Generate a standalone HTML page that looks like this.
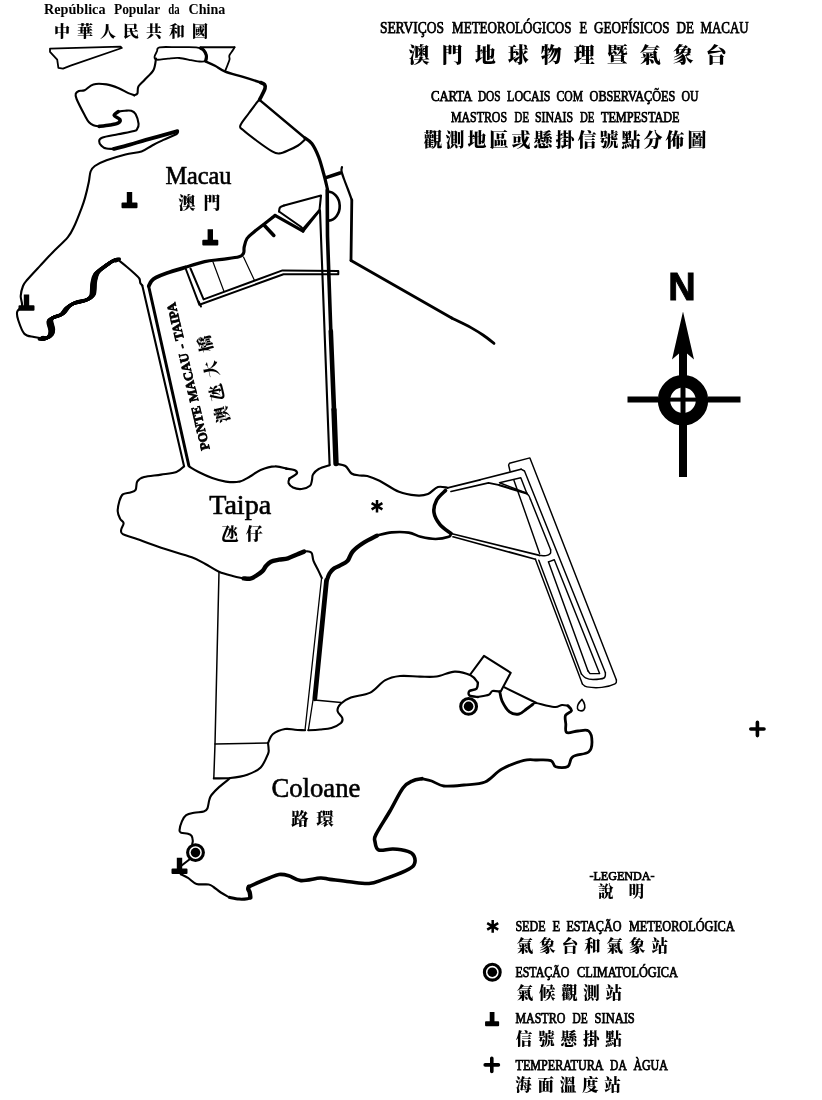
<!DOCTYPE html>
<html lang="pt">
<head>
<meta charset="utf-8">
<title>Carta dos locais com observações ou mastros de sinais de tempestade</title>
<style>
html,body{margin:0;padding:0;background:#fff;}
body{width:822px;height:1100px;overflow:hidden;}
svg{display:block;will-change:transform;filter:grayscale(1);}
svg path,svg circle,svg ellipse{fill:none;stroke:#000;stroke-linecap:round;stroke-linejoin:round;}
svg .fk{fill:#000;stroke:none;}
svg .fw{fill:#fff;}
svg text{fill:#000;stroke:none;font-family:"Liberation Serif","Noto Serif CJK SC",serif;}
svg text.zh{font-family:"Noto Serif CJK SC","Liberation Serif",serif;font-weight:900;}
svg text.sb{stroke:#000;stroke-width:.75px;}
svg text.pn{stroke:#000;stroke-width:.6px;}
svg text.b{font-weight:bold;}
svg text.n{font-family:"Liberation Sans",sans-serif;font-weight:bold;stroke:#000;stroke-width:.9px;}
</style>
</head>
<body>
<svg width="822" height="1100" viewBox="0 0 822 1100">
<rect class="fw" x="0" y="0" width="822" height="1100" stroke="none" fill="#fff"/>
<g id="china">
<path d="M50,48.7L120.5,46.7L121.8,48L70.6,65.7L63,68.6L58.4,67.8L57.2,59.6L50,51.8Z" stroke-width="1.8"/>
<path d="M159.6,47.3C163.1,46.6 171.9,47.2 178,47.2C184.1,47.2 192,46.9 196.2,47.3C200.4,47.7 201.3,48.1 203,49.5C204.7,50.9 206,53.5 206.4,55.4C206.8,57.3 207,60 205.6,61C204.2,62 200.3,61.5 197.9,61.4C195.5,61.3 194.2,60.8 191.1,60.2C188,59.6 183,58.3 179.2,58C175.3,57.7 171.7,58.3 168,58.6C164.3,58.9 159.2,60 157,59.7C154.8,59.5 154.5,58.5 154.5,57.1C154.5,55.7 156.2,52.8 157,51.2C157.8,49.6 156.1,48 159.6,47.3Z" stroke-width="1.8"/>
<path d="M200.5,48.2C201,48.5 202.5,48.8 203.5,50C204.5,51.2 206.1,53.6 206.4,55.4C206.8,57.2 205.7,60.1 205.6,61" stroke-width="3.2"/>
<path d="M200.5,47.3L234.5,47.3" stroke-width="2"/>
<path d="M234.5,47.3C234.2,47.8 233.7,48.9 232.8,50.3C232,51.6 229.9,53.9 229.4,55.4C228.9,56.9 229.7,57.9 229.6,59C229.5,60.1 229.3,60.3 228.6,62.3C227.9,64.3 225.8,69.4 225.2,70.8" stroke-width="1.8"/>
</g>
<g id="macau">
<path d="M156,58.5C155.6,60.4 155.4,66.4 153.5,70C151.6,73.6 147,77.2 144.5,80C142,82.8 139.6,84.3 138.4,86.6C137.2,88.8 138.1,92 137.4,93.5C136.7,95 134.7,95 134.2,95.3" stroke-width="2.1"/>
<path d="M134.2,95.3C133.2,94.9 131.1,94.3 128.4,93.1C125.7,91.9 121.9,89.5 118.2,88C114.5,86.5 110.6,85 106.5,84.4C102.4,83.8 97.1,83.4 93.4,84.4C89.8,85.4 87,89.1 84.6,90.2C82.2,91.3 80.3,90.4 78.8,91C77.3,91.6 76.2,92.3 75.8,93.6C75.4,94.9 75.1,95.4 76.6,99C78.1,102.6 82.5,111.1 84.6,115C86.7,118.9 87.5,120.6 89,122.3C90.5,124 91.7,124.6 93.4,125.3C95.1,126 98.2,126.2 99.2,126.4" stroke-width="2.1"/>
<path d="M99.2,126.4C101,126.2 106.8,125.6 110,125C113.2,124.4 116.6,123.9 118.2,123C119.8,122.1 120.5,120.7 119.8,119.4C119.1,118.1 114.5,116.7 114.2,115.4C113.9,114.1 117.5,112.2 118.2,111.6" stroke-width="3.6"/>
<path d="M118.2,111.6C119.3,111.4 122.8,110.8 125,110.7C127.2,110.6 129.5,110.2 131.3,110.8C133.1,111.4 134.5,112.1 135.7,114.3C136.9,116.5 138.3,121.4 138.6,123.8C138.8,126.2 137.9,127.7 137.2,128.9C136.5,130.1 137.4,130.1 134.2,131C131,131.9 123.4,133.2 118,134.3C112.6,135.4 105.1,136.5 102,137.7C98.9,138.9 99.3,140 99.2,141.3C99.1,142.6 100.2,144.5 101.4,145.7C102.6,146.9 104.4,148.1 106.5,148.6C108.6,149.1 112.6,148.8 113.8,148.9" stroke-width="2.1"/>
<path d="M113.8,148.9C116.5,148.2 124.7,146.1 130,144.6C135.3,143.1 138.9,141.9 145.9,139.9C152.9,137.9 167,134.1 172.2,132.7C177.4,131.2 176.5,131.4 177.3,131.2" stroke-width="3.8"/>
<path d="M177.3,131.2C177.2,131.7 178.9,132.6 176.6,134C174.3,135.4 167.5,138 163.4,139.9C159.3,141.8 155.5,143.8 151.8,145.7C148.2,147.6 145.9,150 141.5,151.5C137.1,153 131.3,153 125.5,154.5C119.7,156 111.6,158.4 106.5,160.3C101.4,162.2 97.5,164.1 94.8,166C92.1,167.9 91.6,168.8 90.6,171.5C89.6,174.2 89.7,177.6 88.8,182C87.9,186.4 86.2,193.6 85,197.9C83.8,202.2 83.3,203.6 81.6,208.1C79.9,212.6 77,220.4 74.7,225.2C72.4,230 71.6,232.6 67.9,237.1C64.2,241.6 57.3,247.6 52.6,252.4C47.9,257.2 44,261.6 39.8,266.1C35.6,270.6 30.3,276.2 27.5,279.5C24.7,282.8 24.1,283.2 23,286C21.9,288.8 20.9,292.7 20.7,296C20.5,299.3 22.6,303.1 22,305.7C21.4,308.3 17.8,309.4 17.2,311.8C16.6,314.2 17,316.4 18.2,320C19.4,323.6 21.7,330.9 24.3,333.7C26.9,336.5 30.8,336.2 34,337C37.2,337.8 42.2,338.3 43.8,338.6" stroke-width="2.1"/>
<g stroke-width="3">
<path d="M41,338.2C41.8,338.2 44.4,338.8 46,338.4C47.6,337.9 49.4,336.9 50.4,335.5C51.4,334.1 51.9,332.4 51.8,330C51.7,327.6 49.6,323.1 49.8,321C50,318.9 51,318.7 53,317.6C55,316.5 59.6,315.9 62,314.2C64.4,312.5 65.5,309.3 67.5,307.5C69.5,305.7 70.8,304.4 74,303.2C77.2,301.9 83.4,301.4 86.5,300C89.6,298.6 91.3,298 92.5,295C93.7,292 93.1,285.6 93.8,282C94.5,278.4 94.8,276 96.5,273.5C98.2,271 101.2,269.1 104,267C106.8,264.9 111.2,261.8 113.5,260.6C115.8,259.4 116.9,260.1 117.6,260" transform="translate(-1.9,0.9)"/>
<path d="M41,338.2C41.8,338.2 44.4,338.8 46,338.4C47.6,337.9 49.4,336.9 50.4,335.5C51.4,334.1 51.9,332.4 51.8,330C51.7,327.6 49.6,323.1 49.8,321C50,318.9 51,318.7 53,317.6C55,316.5 59.6,315.9 62,314.2C64.4,312.5 65.5,309.3 67.5,307.5C69.5,305.7 70.8,304.4 74,303.2C77.2,301.9 83.4,301.4 86.5,300C89.6,298.6 91.3,298 92.5,295C93.7,292 93.1,285.6 93.8,282C94.5,278.4 94.8,276 96.5,273.5C98.2,271 101.2,269.1 104,267C106.8,264.9 111.2,261.8 113.5,260.6C115.8,259.4 116.9,260.1 117.6,260" transform="translate(-1.4,0.7)"/>
<path d="M41,338.2C41.8,338.2 44.4,338.8 46,338.4C47.6,337.9 49.4,336.9 50.4,335.5C51.4,334.1 51.9,332.4 51.8,330C51.7,327.6 49.6,323.1 49.8,321C50,318.9 51,318.7 53,317.6C55,316.5 59.6,315.9 62,314.2C64.4,312.5 65.5,309.3 67.5,307.5C69.5,305.7 70.8,304.4 74,303.2C77.2,301.9 83.4,301.4 86.5,300C89.6,298.6 91.3,298 92.5,295C93.7,292 93.1,285.6 93.8,282C94.5,278.4 94.8,276 96.5,273.5C98.2,271 101.2,269.1 104,267C106.8,264.9 111.2,261.8 113.5,260.6C115.8,259.4 116.9,260.1 117.6,260" transform="translate(-0.9,0.5)"/>
<path d="M41,338.2C41.8,338.2 44.4,338.8 46,338.4C47.6,337.9 49.4,336.9 50.4,335.5C51.4,334.1 51.9,332.4 51.8,330C51.7,327.6 49.6,323.1 49.8,321C50,318.9 51,318.7 53,317.6C55,316.5 59.6,315.9 62,314.2C64.4,312.5 65.5,309.3 67.5,307.5C69.5,305.7 70.8,304.4 74,303.2C77.2,301.9 83.4,301.4 86.5,300C89.6,298.6 91.3,298 92.5,295C93.7,292 93.1,285.6 93.8,282C94.5,278.4 94.8,276 96.5,273.5C98.2,271 101.2,269.1 104,267C106.8,264.9 111.2,261.8 113.5,260.6C115.8,259.4 116.9,260.1 117.6,260" transform="translate(-0.5,0.2)"/>
<path d="M41,338.2C41.8,338.2 44.4,338.8 46,338.4C47.6,337.9 49.4,336.9 50.4,335.5C51.4,334.1 51.9,332.4 51.8,330C51.7,327.6 49.6,323.1 49.8,321C50,318.9 51,318.7 53,317.6C55,316.5 59.6,315.9 62,314.2C64.4,312.5 65.5,309.3 67.5,307.5C69.5,305.7 70.8,304.4 74,303.2C77.2,301.9 83.4,301.4 86.5,300C89.6,298.6 91.3,298 92.5,295C93.7,292 93.1,285.6 93.8,282C94.5,278.4 94.8,276 96.5,273.5C98.2,271 101.2,269.1 104,267C106.8,264.9 111.2,261.8 113.5,260.6C115.8,259.4 116.9,260.1 117.6,260" transform="translate(0,-0)"/>
<path d="M41,338.2C41.8,338.2 44.4,338.8 46,338.4C47.6,337.9 49.4,336.9 50.4,335.5C51.4,334.1 51.9,332.4 51.8,330C51.7,327.6 49.6,323.1 49.8,321C50,318.9 51,318.7 53,317.6C55,316.5 59.6,315.9 62,314.2C64.4,312.5 65.5,309.3 67.5,307.5C69.5,305.7 70.8,304.4 74,303.2C77.2,301.9 83.4,301.4 86.5,300C89.6,298.6 91.3,298 92.5,295C93.7,292 93.1,285.6 93.8,282C94.5,278.4 94.8,276 96.5,273.5C98.2,271 101.2,269.1 104,267C106.8,264.9 111.2,261.8 113.5,260.6C115.8,259.4 116.9,260.1 117.6,260" transform="translate(0.5,-0.2)"/>
<path d="M41,338.2C41.8,338.2 44.4,338.8 46,338.4C47.6,337.9 49.4,336.9 50.4,335.5C51.4,334.1 51.9,332.4 51.8,330C51.7,327.6 49.6,323.1 49.8,321C50,318.9 51,318.7 53,317.6C55,316.5 59.6,315.9 62,314.2C64.4,312.5 65.5,309.3 67.5,307.5C69.5,305.7 70.8,304.4 74,303.2C77.2,301.9 83.4,301.4 86.5,300C89.6,298.6 91.3,298 92.5,295C93.7,292 93.1,285.6 93.8,282C94.5,278.4 94.8,276 96.5,273.5C98.2,271 101.2,269.1 104,267C106.8,264.9 111.2,261.8 113.5,260.6C115.8,259.4 116.9,260.1 117.6,260" transform="translate(0.9,-0.5)"/>
<path d="M41,338.2C41.8,338.2 44.4,338.8 46,338.4C47.6,337.9 49.4,336.9 50.4,335.5C51.4,334.1 51.9,332.4 51.8,330C51.7,327.6 49.6,323.1 49.8,321C50,318.9 51,318.7 53,317.6C55,316.5 59.6,315.9 62,314.2C64.4,312.5 65.5,309.3 67.5,307.5C69.5,305.7 70.8,304.4 74,303.2C77.2,301.9 83.4,301.4 86.5,300C89.6,298.6 91.3,298 92.5,295C93.7,292 93.1,285.6 93.8,282C94.5,278.4 94.8,276 96.5,273.5C98.2,271 101.2,269.1 104,267C106.8,264.9 111.2,261.8 113.5,260.6C115.8,259.4 116.9,260.1 117.6,260" transform="translate(1.4,-0.7)"/>
<path d="M41,338.2C41.8,338.2 44.4,338.8 46,338.4C47.6,337.9 49.4,336.9 50.4,335.5C51.4,334.1 51.9,332.4 51.8,330C51.7,327.6 49.6,323.1 49.8,321C50,318.9 51,318.7 53,317.6C55,316.5 59.6,315.9 62,314.2C64.4,312.5 65.5,309.3 67.5,307.5C69.5,305.7 70.8,304.4 74,303.2C77.2,301.9 83.4,301.4 86.5,300C89.6,298.6 91.3,298 92.5,295C93.7,292 93.1,285.6 93.8,282C94.5,278.4 94.8,276 96.5,273.5C98.2,271 101.2,269.1 104,267C106.8,264.9 111.2,261.8 113.5,260.6C115.8,259.4 116.9,260.1 117.6,260" transform="translate(1.9,-0.9)"/>
</g>
<path d="M118.5,260.2C119.9,261.3 124.2,264.7 127,267C129.8,269.3 132.9,272.1 135,274C137.1,275.9 138.5,277.1 139.4,278.6C140.3,280.1 139.8,281.9 140.3,283C140.8,284.1 142,285.1 142.3,285.5" stroke-width="2.1"/>
<path d="M148.8,286C149.2,285.2 150.3,282.4 151.5,281C152.7,279.6 153.4,278.8 156,277.5C158.6,276.2 162.2,274.7 167,273C171.8,271.3 182,268.4 185,267.5" stroke-width="3.8"/>
<path d="M185,267.5C188.3,266.5 198.4,263 204.6,261.6C210.8,260.2 216.3,260.1 222,259.3C227.7,258.5 235.4,257.9 239,256.8C242.6,255.8 242.7,254.6 243.6,253C244.5,251.4 243.6,249.4 244.2,247C244.8,244.6 245.4,241 247,238.5C248.6,236 251.6,234.1 254,232C256.4,229.9 258.1,228.8 261.6,226C265.1,223.2 272.8,217.2 275,215.4" stroke-width="3.2"/>
<path d="M275,215.4L303,231.2" stroke-width="3.1"/>
<path d="M303,231.2L319.5,210.5" stroke-width="2.6"/>
<path d="M264,225L273.8,235.4" stroke-width="3.6"/>
<path d="M284,205.5L321,195.5L319.5,210L303,229L300.5,226.5L279,211.5" stroke-width="2.1"/>
<path d="M279,211.5C279.2,210.8 279.2,208.5 280,207.5C280.8,206.5 283.3,205.8 284,205.5" stroke-width="2.1"/>
<path d="M205.6,61.4C207.2,62.1 211.7,64 215,65.7C218.3,67.4 220.7,69.8 225.2,71.6C229.7,73.4 236.3,74.9 242.2,76.7C248.1,78.5 257.6,81.5 260.7,82.5" stroke-width="2.4"/>
<path d="M260.7,82.5C261.4,82.8 263.9,83.6 264.6,84.6C265.3,85.6 265.4,86.9 265,88.5C264.6,90.1 263.4,92.1 262.5,94C261.6,95.9 260.1,98.8 259.6,99.7" stroke-width="3.6"/>
<path d="M259.8,100.2L305,138" stroke-width="2.4"/>
<path d="M305,138C306.1,138.9 309.5,140.4 311.8,143.5C314.1,146.6 316.6,151.8 318.6,156.8C320.6,161.9 322.4,169.1 323.7,173.8C325,178.5 325.8,182 326.5,185C327.2,188 327.8,190.8 328,192" stroke-width="3.2"/>
<path d="M258.6,100.3C257,102.4 252,108.8 249,113C246,117.2 241.4,122.5 240.4,125.3C239.4,128.1 240,127.2 242.8,129.8C245.6,132.4 252,137.3 257,141C262,144.7 268.9,149.6 272.6,151.7C276.3,153.8 276.7,153.7 279.4,153.4C282.1,153.1 285.9,151.3 289,150C292.1,148.7 295.4,147.2 298.1,145.5C300.8,143.8 303.9,140.5 305,139.5" stroke-width="2.1"/>
<path d="M326,177.6L340,173" stroke-width="3.6"/>
<path d="M342,167C341.9,167.7 341.2,169 341.5,171C341.8,173 342.9,175.9 344,179C345.1,182.1 346.7,186 348,189.5C349.3,193 351.2,198.2 351.8,200" stroke-width="2.2"/>
<path d="M351.8,200L351,260.5" stroke-width="2.8"/>
<path d="M351,260.5L451.7,318" stroke-width="2.8"/>
<path d="M451.7,318C453.2,318.8 457.8,320.9 461,322.5C464.2,324.1 467.3,325.5 471,327.6C474.7,329.7 479.2,332.4 483,335C486.8,337.6 492.2,342 494,343.4" stroke-width="2.8"/>
<path d="M327.6,191.8A11.6,14.4 0 0 1 328.6,220.6" stroke-width="2.6"/>
<path d="M186,269.5L199.4,304.8L283.5,274.2L338.3,274.2L338.3,271L282.5,270.4L203.6,299.4L190.5,268.5" stroke-width="2"/>
<path d="M198.6,301.5L201,306.5" stroke-width="2"/>
<path d="M213,262L224,291.5" stroke-width="1.2"/>
<path d="M243.5,257L254.5,280.5" stroke-width="1.2"/>
</g>
<g id="bridges">
<path d="M142.3,285.5L184,466" stroke-width="2.1"/>
<path d="M148.6,286L188.8,465.5" stroke-width="3"/>
<path d="M327.2,190L327.5,236L330.8,331" stroke-width="3.6"/>
<path d="M330.8,331L334,410" stroke-width="4.6"/>
<path d="M334,410L336,463.5" stroke-width="5.4"/>
<path d="M320,210.5L329.6,465" stroke-width="2.1"/>
</g>
<g id="taipa">
<path d="M184.1,466.3C182.8,467.2 180.2,470.6 176.4,472C172.6,473.4 166.5,473.8 161.1,474.6C155.7,475.5 148.1,476 144.1,477.1C140.1,478.2 138.7,479.3 137.3,481.4C135.9,483.5 136.8,488 135.6,489.9C134.4,491.8 132.5,491.8 130.4,492.5C128.3,493.2 124.6,493 122.8,494.4C121,495.8 120.2,498.2 119.4,501C118.6,503.8 117.6,508.2 117.7,511.2C117.8,514.2 119.2,516.9 120.2,518.9C121.2,520.9 123.4,521.2 123.6,523.1C123.8,525 121.2,528.1 121.1,530C121,531.9 120.4,532.8 122.8,534.2C125.2,535.6 129.2,536.2 135.6,538.5C142,540.8 151.7,544.7 161.1,547.8C170.5,550.9 184.4,554.5 191.8,557.2C199.2,559.9 200.9,561.6 205.4,564C209.9,566.4 214.4,569.7 219,571.7C223.6,573.7 228.6,574.9 232.7,576C236.8,577.1 241.8,578 243.6,578.4" stroke-width="2.1"/>
<path d="M243.6,578.4C244.7,578.4 248.2,579.1 250.4,578.6C252.6,578.1 254.5,576.8 256.5,575.5C258.5,574.2 260.8,572.7 262.4,571.1C264,569.5 264.6,567.6 266,566C267.4,564.4 268.7,562.8 270.9,561.7C273.1,560.7 276.2,560.3 279,559.7C281.8,559.1 284.9,559.2 287.9,558.3C290.9,557.4 294.3,555.6 297,554.5C299.7,553.4 302.8,552.1 304,551.6" stroke-width="4.4"/>
<path d="M304,551.6C304.7,551.6 306.7,551.1 308,551.4C309.3,551.7 310.9,551.6 311.8,553.2C312.7,554.8 312.4,557.9 313.5,560.9C314.6,563.9 317.2,568.2 318.6,571.1C320,574 321.3,576.9 321.8,578" stroke-width="2.1"/>
<path d="M189.2,466.5C190.8,467.4 194.8,470.1 198.6,472C202.4,473.9 207.7,476.4 212.2,478C216.7,479.6 221.2,481 225.8,481.6C230.4,482.2 235.5,482.5 239.5,481.6C243.5,480.8 246.5,478.4 250,476.5C253.5,474.6 256.4,471.7 260.6,470C264.8,468.3 270.8,466.6 275,466.4C279.2,466.1 284.2,468.1 286,468.5" stroke-width="2.1"/>
<path d="M286,468.5C287.4,468.8 292.5,469.2 294.3,470C296.1,470.8 297.6,472.1 296.8,473.5C296,474.9 290.7,477.6 289.5,478.4" stroke-width="2.4"/>
<path d="M289.5,478.4C289.3,479.2 287.9,481.5 288.5,483C289.1,484.5 290.8,486.5 293,487.5C295.2,488.5 298.8,489.3 301.6,489C304.4,488.7 308.3,487.2 310,485.7C311.7,484.2 311.5,481.9 312,480C312.5,478.1 311.9,476.3 313,474.5C314.1,472.7 315.9,470.6 318.7,469C321.5,467.4 327.8,465.8 329.6,465.2" stroke-width="2.1"/>
<path d="M336,463.8C337.6,464.2 342.8,464.4 345.4,466C348,467.6 349.1,471.9 351.5,473.5C353.9,475.1 357.4,475.1 360,475.5C362.6,475.9 364.1,475.1 367.3,476C370.6,476.9 374.2,478.2 379.5,480.8C384.8,483.4 392.9,489.4 399,491.8C405.1,494.2 411.2,495 416,495.4C420.8,495.8 424.4,495.4 428,494C431.6,492.6 434.6,488 437.9,487C441.2,486 446,487.7 447.6,487.8" stroke-width="2.2"/>
<path d="M445.5,490.5C444,492.1 438.6,496.3 436.7,500C434.8,503.7 433.4,508.4 434,512.5C434.6,516.6 437.2,521.1 440,524.6C442.8,528.1 449.2,532 451,533.5" stroke-width="3.6"/>
<path d="M451,533.5C450.6,534 451.4,535.9 448.8,536.8C446.2,537.7 440.2,539 435.5,539C430.8,539 425.3,537.9 420.8,536.8C416.3,535.7 413.6,533.3 408.7,532.6C403.8,531.9 397,531.9 391.7,532.4C386.4,532.9 379.4,535.1 377,535.6" stroke-width="2.6"/>
<path d="M377,535.6C374.8,536.8 368.1,539.9 364,542.5C359.9,545.1 355.4,548.4 352.7,551.5C349.9,554.6 349.6,558.6 347.5,560.9C345.4,563.2 342.3,564.2 340,565.5C337.7,566.8 335.6,567.2 333.9,568.5C332.1,569.8 330.6,571.6 329.5,573.5C328.4,575.4 327.5,578.6 327.1,579.6" stroke-width="4.2"/>
</g>
<g id="cotai">
<path d="M219,571.7L215,744L213.8,778.4" stroke-width="1.5"/>
<path d="M215,744L268,743" stroke-width="1.5"/>
<path d="M268,743C268.1,744 268.6,747.2 268.6,749C268.6,750.8 269.3,750.9 268,754C266.7,757.1 264.1,763.9 260.7,767.4C257.2,770.9 252.4,772.9 247.3,774.7C242.2,776.5 235.9,777.4 230.3,778C224.7,778.6 216.6,778.3 213.8,778.4" stroke-width="2.1"/>
<path d="M321.6,578L305,730.3" stroke-width="1.3"/>
<path d="M326.5,580.5L314.8,698.8" stroke-width="4.8"/>
<path d="M313,700L308.3,730.3" stroke-width="1.3"/>
<path d="M314.4,700L341,702.5" stroke-width="1.3"/>
</g>
<g id="coloane">
<path d="M268,743C268.8,741.5 270.2,736.3 273,734C275.8,731.7 281.3,729.7 285,729C288.7,728.3 291.7,729.6 295,729.8C298.3,730 303.3,730.2 305,730.3" stroke-width="2.1"/>
<path d="M308.3,730.3C310.2,730.2 316.1,729.9 320,729.5C323.9,729.1 327.9,729 331.4,727.9C334.9,726.8 339.2,724.6 341,723C342.8,721.4 342.9,720 342.3,718C341.7,716 337.7,713.3 337.5,710.9C337.3,708.5 338.8,705.8 341,703.6C343.2,701.4 346,699.3 350.9,697.5C355.8,695.7 364.6,695.5 370.3,692.6C376,689.8 379.9,683.2 384.9,680.4C389.8,677.6 394.1,676.6 400,676C405.9,675.4 413.9,676.5 420,676.6C426.1,676.7 430.7,677.3 436.5,676.5C442.3,675.7 449,671.8 454.7,671.6C460.4,671.4 466.7,673.5 470.6,675.3C474.5,677.1 476.7,681.4 477.9,682.6" stroke-width="2.1"/>
<path d="M477.9,682.6C477.7,683.6 478,687.3 476.6,688.7C475.2,690.1 470.7,689.9 469.5,691C468.3,692.1 468.1,694.5 469.5,695.5C470.9,696.5 476.5,696.8 477.9,697" stroke-width="2.4"/>
<path d="M477.9,697C479.7,696.6 486.4,695.7 488.8,694.7C491.2,693.7 490.7,691.5 492.5,691C494.3,690.5 498.6,691.5 499.8,691.6" stroke-width="2.1"/>
<path d="M499.8,691.6C500.2,693.1 500.4,697.4 502,700.8C503.6,704.2 506.7,709.6 509.5,711.8C512.3,714 516.2,714.5 519,714C521.8,713.5 524.2,710.6 526.5,709C528.8,707.4 531.6,705.2 532.6,704.5" stroke-width="2.8"/>
<path d="M532.6,704.5C533.2,704.2 533.8,702.8 536,703C538.2,703.2 542.7,704.8 546,705.5C549.3,706.2 553,707.1 555.7,707C558.4,706.9 560,705.2 562,705C564,704.8 566.9,705.6 567.9,705.7" stroke-width="2.1"/>
<path d="M567.9,705.7C568.5,706.5 571.9,709 571.5,710.6C571.1,712.2 566.5,713.2 565.5,715.4C564.5,717.6 565.6,721.1 565.8,724C566,726.9 564.7,731.3 566.7,732.5C568.7,733.7 574.4,731.2 578,731C581.6,730.8 586.3,729.2 588.6,731C590.9,732.8 592,738.5 592,742C592,745.5 591.8,749.5 588.6,752C585.4,754.5 576.2,754.4 572.7,756.8C569.2,759.2 570.7,764.8 567.9,766.5C565.1,768.2 558.5,767.8 555.7,766.8C552.9,765.8 554,761.7 550.9,760.6C547.8,759.5 541.5,760 537,760C532.5,760 529.8,758.9 524,760.4C518.2,761.9 508.5,765.4 502,769C495.5,772.6 491.3,779.3 485,782C478.7,784.7 470.9,784.3 464,785C457.1,785.7 449.2,786.7 443.8,786C438.4,785.3 435.2,782.2 431.6,781C428,779.8 423.5,779.1 421.9,778.7" stroke-width="2.8"/>
<path d="M421.9,778.7C420.4,779.1 415.8,779.2 412.7,780.8C409.6,782.3 406.8,783 403,788C399.2,793 394.5,803.3 390,811C385.5,818.7 378.5,829.3 376,834.4C373.5,839.5 374.6,839.1 375,841.7C375.4,844.3 375.7,848.8 378.7,850C381.7,851.2 388.1,848.8 393,849C397.9,849.2 404.4,850.2 407.9,851.4C411.4,852.6 413,853.8 414,856C415,858.2 415.4,862.3 414,864.8C412.6,867.3 410.5,868.5 405.4,870.9C400.3,873.3 389.6,877.3 383.5,879.4C377.4,881.5 374.7,883.1 369,883.5C363.3,883.9 356,882.5 349.5,881.8C343,881.1 334.9,880 330,879.4C325.1,878.8 325.2,877.8 320.3,878C315.4,878.2 306.2,881 300.9,880.6C295.6,880.2 292.3,876.7 288.7,875.7C285.1,874.7 282.2,874.1 279,874.5C275.8,874.9 272.9,876.6 269.2,878C265.5,879.4 260.4,881.5 257,883C253.6,884.5 250.2,886.1 248.8,886.7" stroke-width="3.6"/>
<path d="M248.8,886.7C248.7,887.1 248.1,888.1 248.2,889C248.3,889.9 249.2,890.6 249.6,892C250,893.4 250.3,896.6 250.4,897.5" stroke-width="4.4"/>
<path d="M250.4,897.5C249.9,897.7 249.5,898.4 247.6,898.7C245.7,899 242.1,899.3 239.1,899.1C236.1,898.9 230.9,897.6 229.3,897.3" stroke-width="3"/>
<path d="M229.3,897.3C227.9,896.5 223.4,894.2 220.8,892.5C218.2,890.8 215.5,888.3 213.5,887C211.5,885.7 211.5,885 208.7,884.5C205.9,884 199.9,885 196.5,883.9C193.1,882.8 190.6,879.5 188,877.9C185.4,876.3 181.9,874.8 180.7,874.2" stroke-width="2.1"/>
<path d="M230.3,778C228.5,779.5 222.4,784.1 219.3,786.9C216.2,789.7 213.2,792.8 211.5,795C209.8,797.2 210,797.8 209.3,800C208.6,802.2 208.3,806.6 207.4,808.5C206.5,810.4 206,810.9 203.8,811.6C201.6,812.3 197,812.2 194.1,812.8C191.2,813.4 188.2,813.8 186.2,815.2C184.2,816.6 183,818.8 181.9,821.3C180.8,823.8 179.6,828.5 179.5,830.4C179.4,832.3 179.9,832.2 181.3,832.8C182.7,833.3 186.3,833.2 188,833.7C189.7,834.2 190.8,834.7 191.6,835.9C192.4,837.1 192.7,839.4 192.8,840.8C192.9,842.1 192.3,843.5 192.2,844" stroke-width="2.1"/>
<path d="M190,859L181,866" stroke-width="2.1"/>
<path d="M470.6,674L484,655.8L510.7,672.8L501,691" stroke-width="2.1"/>
<path d="M504.6,687.4L536,702.8" stroke-width="2.1"/>
<path d="M582,699.4C584.6,702.4 585.8,707.4 584,709.6C582.2,711.6 578.2,711.2 577.5,708.6C576.9,706 579.6,701.8 582,699.4Z" stroke-width="1.6"/>
</g>
<g id="airport">
<path d="M510,471L508.6,465L509.5,463.2L529.9,457.9L616.4,680" stroke-width="1.45"/>
<path d="M616.4,680C616.2,680.6 617.4,682.6 615,683.8C612.6,685 606.5,686.9 601.8,687.4C597.1,687.9 590.2,687.5 587,686.9C583.8,686.3 583.2,684.5 582.4,684" stroke-width="1.45"/>
<path d="M582.4,684L535.4,559.2" stroke-width="1.45"/>
<path d="M480,479.8L447.6,487.8" stroke-width="1.7"/>
<path d="M480,479.8L521,469.2" stroke-width="1.7"/>
<path d="M521,469.2L524.5,471L605.4,672.8" stroke-width="1.45"/>
<path d="M605.4,672.8C605.2,673.7 606.1,676.9 604,678C601.9,679.1 596.1,679.4 593,679.4C589.9,679.4 587.4,678.7 585.5,677.8C583.6,676.9 582.1,674.6 581.4,674" stroke-width="1.45"/>
<path d="M581.4,674L538.8,560.2" stroke-width="1.45"/>
<path d="M548.5,561.9L554.3,559.7L599.6,673.6L590,673.6L587.9,670.7" stroke-width="1.45"/>
<path d="M587.9,670.7L548.5,561.9" stroke-width="1.45"/>
<path d="M451,491.5L488.5,482.8L499.5,485.2" stroke-width="1.7"/>
<path d="M499.5,485.2L526.8,493.5" stroke-width="2.2"/>
<path d="M526.8,493.5C527.2,493.9 528.4,495 529,496C529.6,497 530.2,498.9 530.5,499.5" stroke-width="1.45"/>
<path d="M530.5,499.5L550.6,549.8" stroke-width="1.45"/>
<path d="M550.6,549.8C550.5,550.4 551.1,552.5 550.3,553.5C549.5,554.5 547.8,555.3 546,555.6C544.2,555.9 540.6,555.4 539.5,555.4" stroke-width="1.45"/>
<path d="M539.5,555.4L451,533.5" stroke-width="1.7"/>
<path d="M453,536.8L535.4,559.2" stroke-width="1.7"/>
<path d="M499.5,482.8L520.8,477.7L526.8,493.2Z" stroke-width="1.45"/>
<path d="M514,480.4L539.6,553.4" stroke-width="1.45"/>
</g>
<g id="compass">
<path class="fk" d="M683,311.5L694,359.5L687,353.5L687,477L679,477L679,353.5L672,359.5Z"/>
<path d="M627.5,399.6H658M708,399.6H740.5" stroke-width="6" style="stroke-linecap:butt"/>
<circle class="fw" cx="683" cy="400.3" r="19" stroke-width="12.4"/>
<path d="M669,399.6H697" stroke-width="4" style="stroke-linecap:butt"/>
<path d="M683,386V414" stroke-width="5" style="stroke-linecap:butt"/>
</g>
<g id="symbols">
<path class="fk" transform="translate(129.5,208.2) scale(1.00)" d="M-2.7,-16.2h5.4v10.6h4.3q1,0 1,1v3.6q0,1 -1,1h-14q-1,0 -1,-1v-3.6q0,-1 1,-1h4.3z"/>
<path class="fk" transform="translate(210.3,245.4) scale(1.00)" d="M-2.7,-16.2h5.4v10.6h4.3q1,0 1,1v3.6q0,1 -1,1h-14q-1,0 -1,-1v-3.6q0,-1 1,-1h4.3z"/>
<path class="fk" transform="translate(26.5,310.8) scale(1.00)" d="M-2.7,-16.2h5.4v10.6h4.3q1,0 1,1v3.6q0,1 -1,1h-14q-1,0 -1,-1v-3.6q0,-1 1,-1h4.3z"/>
<path class="fk" transform="translate(179.5,874.0) scale(1.00)" d="M-2.7,-16.2h5.4v10.6h4.3q1,0 1,1v3.6q0,1 -1,1h-14q-1,0 -1,-1v-3.6q0,-1 1,-1h4.3z"/>
<circle class="fw" cx="468.6" cy="706.4" r="7.9" stroke-width="3.1"/><circle class="fk" cx="468.6" cy="706.4" r="4.8"/>
<circle class="fw" cx="195.5" cy="852.6" r="7.9" stroke-width="3.1"/><circle class="fk" cx="195.5" cy="852.6" r="4.8"/>
<path d="M377.0,500.0L377.0,512.4M371.6,503.1L382.4,509.3M382.4,503.1L371.6,509.3" stroke-width="2.5" style="stroke-linecap:butt"/>
<path d="M750.8,729.0h13.2M757.4,722.4v13.2" stroke-width="3.6"/>
<path d="M492.7,920.0L492.7,932.8M487.2,923.2L498.2,929.6M498.2,923.2L487.2,929.6" stroke-width="2.5" style="stroke-linecap:butt"/>
<circle class="fw" cx="492.3" cy="972.2" r="7.9" stroke-width="3.1"/><circle class="fk" cx="492.3" cy="972.2" r="4.8"/>
<path class="fk" transform="translate(492.1,1026.2) scale(0.88)" d="M-2.7,-16.2h5.4v10.6h4.3q1,0 1,1v3.6q0,1 -1,1h-14q-1,0 -1,-1v-3.6q0,-1 1,-1h4.3z"/>
<path d="M485.2,1064.9h13.2M491.8,1058.3v13.2" stroke-width="3.6"/>
</g>
<g id="labels">
<text class="sb" font-size="16" y="32.9"><tspan x="379.9" textLength="64.1" lengthAdjust="spacingAndGlyphs">SERVIÇOS</tspan> <tspan x="452.1" textLength="119.4" lengthAdjust="spacingAndGlyphs">METEOROLÓGICOS</tspan> <tspan x="579.6" textLength="7.7" lengthAdjust="spacingAndGlyphs">E</tspan> <tspan x="594.1" textLength="75.4" lengthAdjust="spacingAndGlyphs">GEOFÍSICOS</tspan> <tspan x="676.6" textLength="17.4" lengthAdjust="spacingAndGlyphs">DE</tspan> <tspan x="700.4" textLength="48.2" lengthAdjust="spacingAndGlyphs">MACAU</tspan></text>
<text class="zh" text-anchor="middle" font-size="21" x="419.3 452.3 485.3 518.3 551.3 584.3 617.3 650.3 683.3 716.3" y="62.2">澳門地球物理暨氣象台</text>
<text class="sb" font-size="14.2" y="100.8"><tspan x="430.9" textLength="40.7" lengthAdjust="spacingAndGlyphs">CARTA</tspan> <tspan x="477.9" textLength="22.7" lengthAdjust="spacingAndGlyphs">DOS</tspan> <tspan x="507.1" textLength="43.2" lengthAdjust="spacingAndGlyphs">LOCAIS</tspan> <tspan x="556.6" textLength="26.5" lengthAdjust="spacingAndGlyphs">COM</tspan> <tspan x="589.6" textLength="85.7" lengthAdjust="spacingAndGlyphs">OBSERVAÇÕES</tspan> <tspan x="681.6" textLength="17.0" lengthAdjust="spacingAndGlyphs">OU</tspan></text>
<text class="sb" font-size="14.2" y="122"><tspan x="450.9" textLength="56.1" lengthAdjust="spacingAndGlyphs">MASTROS</tspan> <tspan x="514.6" textLength="14.4" lengthAdjust="spacingAndGlyphs">DE</tspan> <tspan x="534.9" textLength="38.2" lengthAdjust="spacingAndGlyphs">SINAIS</tspan> <tspan x="579.9" textLength="14.4" lengthAdjust="spacingAndGlyphs">DE</tspan> <tspan x="600.9" textLength="78.7" lengthAdjust="spacingAndGlyphs">TEMPESTADE</tspan></text>
<text class="zh" text-anchor="middle" font-size="19" x="433.0 455.0 477.0 499.0 521.0 543.0 565.0 587.0 609.0 631.0 653.0 675.0 697.0" y="146.5">觀測地區或懸掛信號點分佈圖</text>
<text class="b" font-size="13.8" y="13.6"><tspan x="44.0" textLength="61.5" lengthAdjust="spacingAndGlyphs">República</tspan> <tspan x="113.9" textLength="46.2" lengthAdjust="spacingAndGlyphs">Popular</tspan> <tspan x="168.2" textLength="11.4" lengthAdjust="spacingAndGlyphs">da</tspan> <tspan x="188.6" textLength="36.7" lengthAdjust="spacingAndGlyphs">China</tspan></text>
<text class="zh" text-anchor="middle" font-size="16" x="62.0 85.0 108.0 131.0 154.0 177.0 200.0" y="37.4">中華人民共和國</text>
<text class="pn" font-size="24.6" transform="translate(165.5,183.8) scale(0.986,1)">Macau</text>
<text class="zh" text-anchor="middle" font-size="17" x="187.0 212.0" y="208.5">澳門</text>
<text class="pn" font-size="27.6" transform="translate(209.2,514.2) scale(1.018,1)">Taipa</text>
<text class="zh" text-anchor="middle" font-size="17" x="230.0 254.3" y="539.5">氹仔</text>
<text class="pn" font-size="27.6" transform="translate(271.5,797) scale(0.967,1)">Coloane</text>
<text class="zh" text-anchor="middle" font-size="17.5" x="300.0 325.0" y="824.5">路環</text>
<g transform="translate(209.7,449) rotate(-103.2)"><text class="b sb" font-size="13" transform="translate(0,0) scale(1.0,1)" word-spacing="1.4">PONTE MACAU - TAIPA</text></g>
<g transform="translate(229.7,421) rotate(-103.4)"><text class="zh" font-size="16.5" x="0 22.5 46.5 72.5" y="0">澳氹大橋</text></g>
<text class="n" font-size="38" x="668.2" y="300">N</text>
<text class="sb" font-size="13.5" y="880.1"><tspan x="589.4" textLength="65.2" lengthAdjust="spacingAndGlyphs">-LEGENDA-</tspan></text>
<text class="zh" text-anchor="middle" font-size="15.5" x="605.8 636.3" y="897">說明</text>
<text class="sb" font-size="14.3" y="930.7"><tspan x="515.4" textLength="30.2" lengthAdjust="spacingAndGlyphs">SEDE</tspan> <tspan x="552.6" textLength="7.7" lengthAdjust="spacingAndGlyphs">E</tspan> <tspan x="566.4" textLength="55.2" lengthAdjust="spacingAndGlyphs">ESTAÇÃO</tspan> <tspan x="628.9" textLength="105.7" lengthAdjust="spacingAndGlyphs">METEOROLÓGICA</tspan></text>
<text class="zh" text-anchor="middle" font-size="16.5" x="525.0 547.5 569.9 592.4 614.8 637.2 659.7" y="952">氣象台和氣象站</text>
<text class="sb" font-size="14.3" y="977.3"><tspan x="515.4" textLength="54.1" lengthAdjust="spacingAndGlyphs">ESTAÇÃO</tspan> <tspan x="577.1" textLength="100.7" lengthAdjust="spacingAndGlyphs">CLIMATOLÓGICA</tspan></text>
<text class="zh" text-anchor="middle" font-size="16.5" x="525.0 547.2 569.4 591.6 613.8" y="998.5">氣候觀測站</text>
<text class="sb" font-size="14.3" y="1023.4"><tspan x="515.4" textLength="49.9" lengthAdjust="spacingAndGlyphs">MASTRO</tspan> <tspan x="572.6" textLength="15.2" lengthAdjust="spacingAndGlyphs">DE</tspan> <tspan x="594.6" textLength="40.2" lengthAdjust="spacingAndGlyphs">SINAIS</tspan></text>
<text class="zh" text-anchor="middle" font-size="16.5" x="524.0 546.4 568.8 591.2 613.6" y="1044.5">信號懸掛點</text>
<text class="sb" font-size="14.3" y="1070"><tspan x="515.6" textLength="87.2" lengthAdjust="spacingAndGlyphs">TEMPERATURA</tspan> <tspan x="610.1" textLength="16.0" lengthAdjust="spacingAndGlyphs">DA</tspan> <tspan x="633.4" textLength="34.4" lengthAdjust="spacingAndGlyphs">ÀGUA</tspan></text>
<text class="zh" text-anchor="middle" font-size="16.5" x="523.6 545.8 568.0 590.2 612.4" y="1091">海面溫度站</text>
</g>
</svg>
</body>
</html>
